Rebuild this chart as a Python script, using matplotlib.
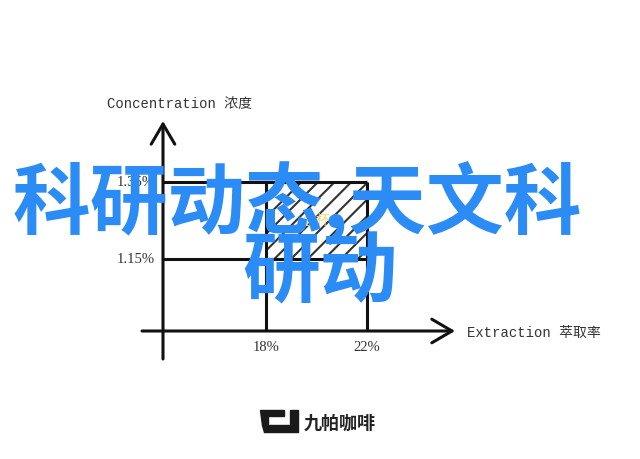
import matplotlib.pyplot as plt
from matplotlib.patches import Polygon

plt.rcParams['hatch.linewidth'] = 1.5

# chart values
extraction = [18, 22]          # %
concentration = [1.15, 1.35]   # %
extraction_labels = ["18%", "22%"]
concentration_labels = ["1.15%", "1.35%"]
x_title = "Extraction 萃取率"
y_title = "Concentration 浓度"
zone_label = "金杯"
overlay_lines = ["科研动态,天文科", "研动"]
brand = "九帕咖啡"

W, H = 640, 460
ink = "#111111"
lw = 2.2


def px_rect(l, t, r, b):
    return [l / W, 1 - b / H, (r - l) / W, (b - t) / H]


fig = plt.figure(figsize=(W / 100, H / 100), dpi=100)
fig.patch.set_facecolor("white")

# main chart axes: spans from the y axis to the arrow tips
ax = fig.add_axes(px_rect(163, 122, 455, 332))
ax.set_xlim(13.92, 25.49)
ax.set_ylim(0.963, 1.508)
ax.axis("off")

x0, x1 = ax.get_xlim()
y0, y1 = ax.get_ylim()

# hatched ideal zone
ax.fill_between(extraction, concentration[0], concentration[1], hatch="//",
                facecolor="white", edgecolor="#333333", linewidth=0, zorder=1)
ax.hlines(concentration, x0, extraction[1], color=ink, lw=lw, zorder=2)
ax.vlines(extraction, y0, concentration[1], color=ink, lw=lw, zorder=2)

# axes with open arrow heads
arrow = dict(arrowstyle="->,head_length=1.45,head_width=0.85", color=ink,
             lw=lw, shrinkA=0, shrinkB=0, mutation_scale=10)
ax.annotate("", xy=(0, 1), xytext=(0, -28 / 210), xycoords="axes fraction",
            arrowprops=arrow)
ax.annotate("", xy=(1, 0), xytext=(-21 / 292, 0), xycoords="axes fraction",
            arrowprops=arrow)

tick_font = dict(family="Liberation Serif", fontsize=10.5, color="#333333")
for c, lab in zip(concentration, concentration_labels):
    ax.annotate(lab, xy=(0, c), xycoords=("axes fraction", "data"),
                xytext=(-6, 0), textcoords="offset points",
                ha="right", va="center", **tick_font)
for e, lab in zip(extraction, extraction_labels):
    ax.annotate(lab, xy=(e, 0), xycoords=("data", "axes fraction"),
                xytext=(0, -11.5), textcoords="offset points",
                ha="center", va="center", **tick_font)

ax.text(sum(extraction) / 2, 1.25, zone_label, ha="center", va="center",
        fontsize=10, color="#f2d57a", family=["Noto Sans CJK SC"], zorder=3)

# overlay in pixel coordinates
ov = fig.add_axes([0, 0, 1, 1])
ov.set_xlim(0, W)
ov.set_ylim(H, 0)
ov.axis("off")
ov.patch.set_visible(False)

label_font = dict(fontsize=10, color="#333333",
                  family=["Liberation Mono", "Noto Sans CJK SC"])
ov.text(107, 104, y_title, ha="left", va="center", **label_font)
ov.text(467, 333, x_title, ha="left", va="center", **label_font)

blue = "#2b8cf5"
big = dict(fontsize=56, color=blue, weight="bold",
           family=["Noto Sans CJK SC", "DejaVu Sans"], va="center", ha="left")
ov.text(12, 204, overlay_lines[0], **big)
ov.text(242, 274, overlay_lines[1], **big)

# brand mark
ov.add_patch(Polygon([(260, 411), (284, 411), (284, 417), (268, 417),
                      (268, 426), (262, 426)], closed=True, color="#1a1a1a"))
ov.add_patch(Polygon([(262, 426), (290, 426), (290, 411), (298, 411),
                      (298, 433), (264, 433)], closed=True, color="#1a1a1a"))
ov.text(304, 423, brand, ha="left", va="center", fontsize=13, weight="bold",
        color="#222222", family=["Noto Sans CJK SC"])

fig.savefig("out.png", dpi=100)
